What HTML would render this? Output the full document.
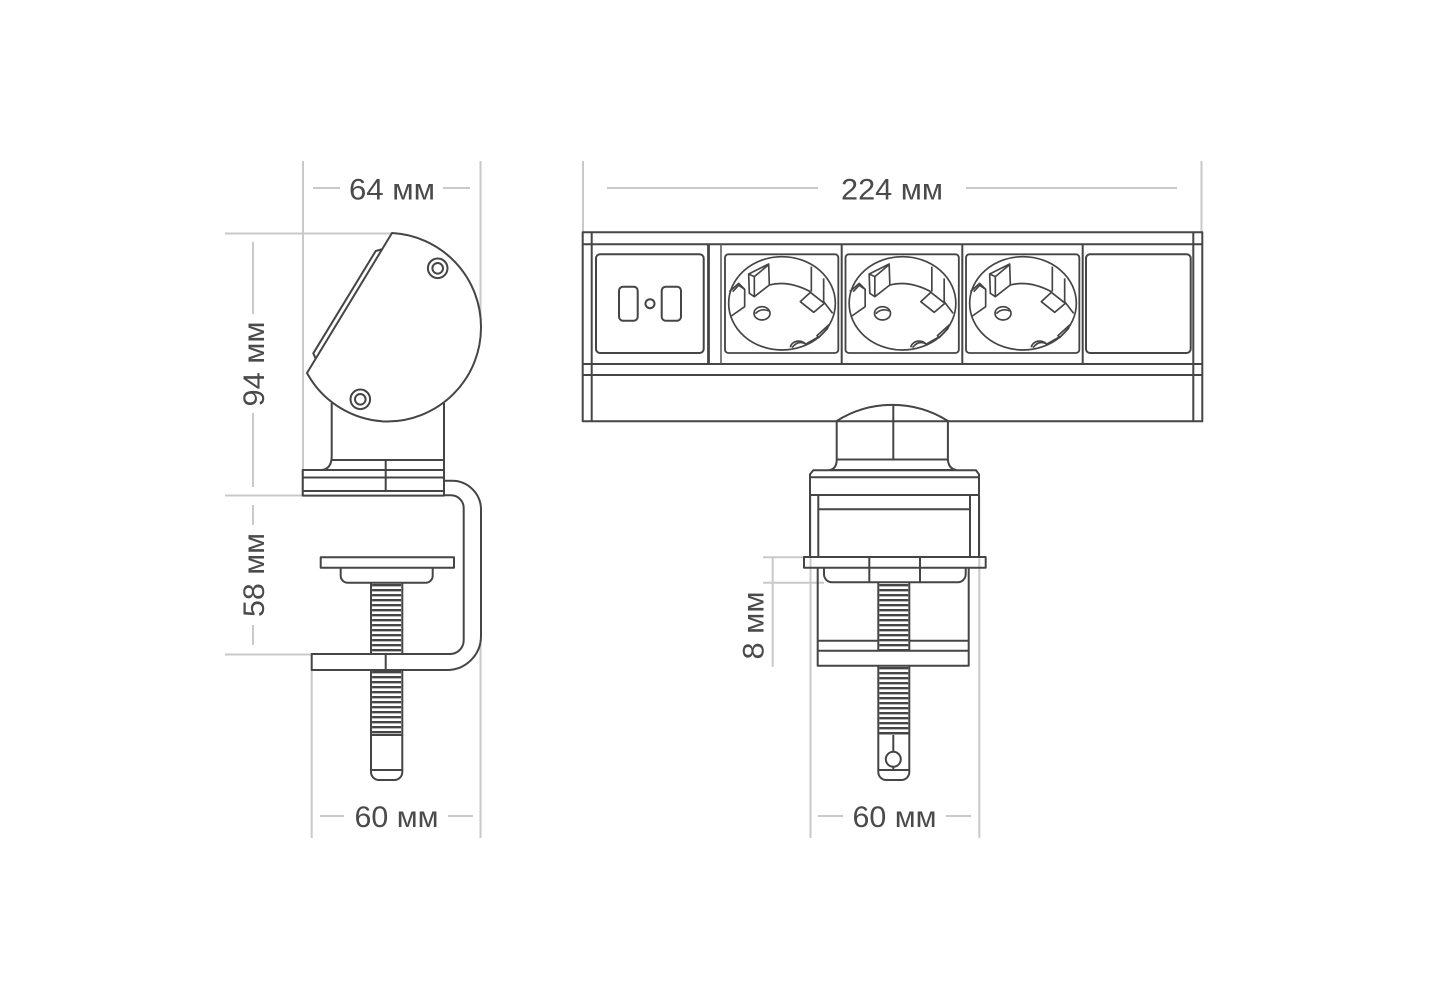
<!DOCTYPE html>
<html>
<head>
<meta charset="utf-8">
<style>
html,body{margin:0;padding:0;background:#fff}
svg{display:block}
text{font-family:"Liberation Sans",sans-serif;font-size:30px;fill:#4a4a4a}
.g{stroke:#c9c9c9;stroke-width:2;fill:none}
.d{stroke:#454545;stroke-width:2;fill:none;stroke-linejoin:round}
.w{fill:#fff}
.t{stroke:#454545;stroke-width:29;stroke-dasharray:2.4 2.6;fill:none}
</style>
</head>
<body>
<svg width="1429" height="1000" viewBox="0 0 1429 1000" xmlns="http://www.w3.org/2000/svg">
<defs>
<g id="sock">
  <rect x="450" y="88" width="340" height="296" rx="10" class="d" style="stroke-width:5.5"/>
  <g style="stroke:#454545;stroke-width:5;fill:none;stroke-linejoin:round">
    <ellipse cx="621" cy="235" rx="160" ry="140"/>
    <path d="M463 200L491 175L509 193V245L469 273"/>
    <path d="M473 200L491 181L509 193"/>
    <path d="M521 147L581 117L583 180L538 215L523 205Z"/>
    <path d="M521 147L538 155V215M538 155L581 119"/>
    <path d="M583 180Q640 165 706 200M746 230L773 265"/>
    <path d="M709 125V200M746 160V232"/>
    <path d="M676 230L706 202L748 235L716 262Z"/>
    <ellipse cx="561" cy="265" rx="24" ry="20"/>
    <path d="M541 266Q558 248 582 258"/>
    <path d="M646 367A25 21 0 0 1 692 358"/>
    <path d="M651 368Q668 345 691 356"/>
    <path d="M726 332L761 300L757 311L731 338Z"/>
    <path d="M728 337L691 358"/>
  </g>
</g>
</defs>

<!-- grey dimension lines, left -->
<g class="g">
  <path d="M303 161V495M480.5 161V327"/>
  <path d="M225 233.5H392M225 495.5H303M225 654.5H312"/>
  <path d="M311.7 670V838M480.5 640V838"/>
  <path d="M313 188H340M443 188H470"/>
  <path d="M253 242V314M253 413V487M253 505V525M253 625V645"/>
  <path d="M320 816H344M448 816H473"/>
</g>
<!-- grey dimension lines, right -->
<g class="g">
  <path d="M583 161V232M1201.5 161V232"/>
  <path d="M607 188H818M966 188H1177"/>
  <path d="M810.5 496V838M979.3 496V838"/>
  <path d="M763 557.3H806M763 582.7H824M772.7 557V667"/>
  <path d="M818 816H843M946 816H971"/>
</g>

<!-- left view: threads and screw -->
<path class="t" d="M386.6 584V654M386.6 671V735"/>
<path class="d" d="M371 582.7V654M402.3 582.7V654"/>
<path class="d" d="M371 670V772A8 8 0 0 0 379 780H394.3A8 8 0 0 0 402.3 772V670"/>
<path class="d" d="M371 735H402.3M371 770H402.3"/>

<!-- left view: head -->
<path class="d" d="M316 359.3L313.3 353.3L375.7 251L383.3 249"/>
<path class="d w" d="M392 233A94 94 0 0 1 481 327.5A94 94 0 0 1 387 421.5A93 93 0 0 1 307 373Z"/>
<circle class="d" cx="437.7" cy="268.3" r="9.8"/>
<circle class="d" cx="437.7" cy="268.3" r="5.3"/>
<circle class="d" cx="360.3" cy="399.3" r="9.8"/>
<circle class="d" cx="360.3" cy="399.3" r="5.3"/>

<!-- left view: neck and base -->
<path class="d" d="M331.7 403V456Q331.7 469 321.7 470M444 403V470M331.7 460H444M385.7 460V491"/>
<rect class="d" x="302.7" y="470" width="141.3" height="25.6"/>
<path class="d" d="M302.7 477.5H444M302.7 491H444"/>

<!-- left view: C clamp -->
<path class="d" d="M444 480.7H452A29 29 0 0 1 481 510V636A34 34 0 0 1 447 670H311.7V654H450A13.7 13.7 0 0 0 463.7 640.3V508A12.7 12.7 0 0 0 451 495.3H444"/>
<path class="d" d="M385.7 655V669"/>
<rect class="d" x="320.7" y="557.3" width="133.3" height="10.4"/>
<path class="d" d="M340.7 567.7V575.7A7 7 0 0 0 347.7 582.7H425.7A7 7 0 0 0 432.7 575.7V567.7"/>

<!-- front view: bar -->
<path class="d w" d="M836.7 421A104 104 0 0 1 947.9 421V459.5Q948.5 468.5 956 470H830Q836.7 468.5 836.7 459.5Z"/>
<rect class="d" x="582.7" y="232.3" width="619.6" height="188.9"/>
<path class="d" d="M582.7 244.3H1202.3M582.7 364H1202.3M582.7 375H1202.3M591.7 232.3V421M1193.3 232.3V421"/>
<path class="d" d="M841.7 244.3V364M962.3 244.3V364M1082.7 244.3V364"/>
<path d="M708.5 244.3V364" stroke="#454545" stroke-width="2.8" fill="none"/>
<path d="M721 244.3V364" stroke="#555" stroke-width="1.5" fill="none"/>
<rect class="d" x="596" y="254.3" width="107.7" height="98.7" rx="4"/>
<rect class="d" x="619" y="286.7" width="18.7" height="34" rx="4"/>
<rect class="d" x="661.7" y="286.7" width="19.3" height="34" rx="4"/>
<circle class="d" cx="650" cy="303.7" r="4.5"/>
<g transform="translate(575 225) scale(.33333)"><use href="#sock"/></g>
<g transform="translate(695.5 225) scale(.33333)"><use href="#sock"/></g>
<g transform="translate(816 225) scale(.33333)"><use href="#sock"/></g>
<rect class="d" x="1086" y="254.3" width="104.7" height="98.7" rx="4"/>

<!-- front view: clamp -->
<path class="d" d="M893.3 405V459.5M836.7 459.5H948"/>
<path class="d" d="M810 556.7V474.3L813.3 470.3H976L979 474.3V556.7M810 477.3H979M810 495H979"/>
<path class="d" d="M818.3 495V556.7M970 495V556.7M818.3 509.3H970"/>
<rect class="d" x="804" y="557" width="181.7" height="10.7"/>
<path class="d" d="M824 567.7V574.3A8 8 0 0 0 832 582.3H957.7A8 8 0 0 0 965.7 574.3V567.7"/>
<path class="d" d="M869.3 557V582.3M920 557V582.3"/>

<path class="t" d="M893.8 584V650M893.8 667V733"/>
<path class="d" d="M817.7 567.7V665.7H968.7V567.7M817.7 640.7H878.3M909.3 640.7H968.7M817.7 650.7H968.7"/>
<path class="d" d="M878.3 582.3V650.7M909.3 582.3V650.7"/>
<path class="d" d="M878.3 665.7V772A8 8 0 0 0 886.3 780H901.3A8 8 0 0 0 909.3 772V665.7"/>
<path class="d" d="M878.3 733.5H909.3M878.3 770H909.3M893.3 735V770"/>
<circle class="d w" cx="893.3" cy="759.3" r="7.5"/>

<!-- labels -->
<text x="349" y="199.5" textLength="86" lengthAdjust="spacingAndGlyphs">64 мм</text>
<text x="841" y="199.5" textLength="102" lengthAdjust="spacingAndGlyphs">224 мм</text>
<text x="354.5" y="827" textLength="84" lengthAdjust="spacingAndGlyphs">60 мм</text>
<text x="852.5" y="827" textLength="84" lengthAdjust="spacingAndGlyphs">60 мм</text>
<text transform="translate(264 406.5) rotate(-90)" textLength="85" lengthAdjust="spacingAndGlyphs">94 мм</text>
<text transform="translate(264 617) rotate(-90)" textLength="84" lengthAdjust="spacingAndGlyphs">58 мм</text>
<text transform="translate(763.5 659.5) rotate(-90)" textLength="68" lengthAdjust="spacingAndGlyphs">8 мм</text>
</svg>
</body>
</html>
